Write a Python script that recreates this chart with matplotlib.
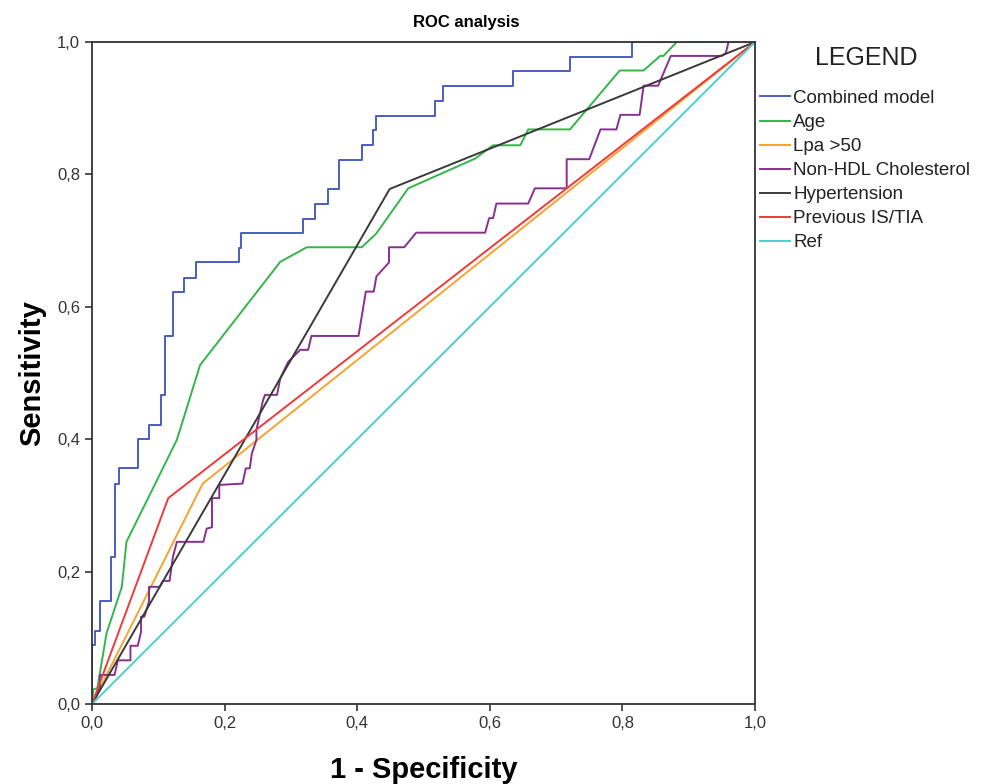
import numpy as np
import matplotlib
matplotlib.use('Agg')
import matplotlib.pyplot as plt

plt.rcParams['font.family'] = ['Liberation Sans', 'DejaVu Sans']

# data (1 - specificity, sensitivity)
# combined model: corner points of the step curve (drawn with steps-post)
combined_fpr = [0, 0, 0.004, 0.012, 0.028, 0.034, 0.041, 0.070, 0.086, 0.104, 0.110, 0.122,
                0.139, 0.157, 0.221, 0.224, 0.319, 0.337, 0.356, 0.372, 0.407, 0.424, 0.429,
                0.517, 0.530, 0.635, 0.721, 0.815, 1.0]
combined_tpr = [0, 0.089, 0.111, 0.156, 0.222, 0.333, 0.356, 0.400, 0.422, 0.467, 0.556, 0.622,
                0.644, 0.667, 0.689, 0.711, 0.733, 0.756, 0.778, 0.822, 0.844, 0.867, 0.889,
                0.911, 0.933, 0.956, 0.978, 1.0, 1.0]

age_fpr = [0, 0.002, 0.008, 0.022, 0.045, 0.052, 0.128, 0.163, 0.284, 0.324, 0.407, 0.429,
           0.477, 0.578, 0.605, 0.646, 0.658, 0.721, 0.796, 0.832, 0.857, 0.862, 0.882, 1.0]
age_tpr = [0, 0.022, 0.024, 0.107, 0.177, 0.245, 0.399, 0.512, 0.668, 0.690, 0.690, 0.711,
           0.779, 0.824, 0.844, 0.844, 0.868, 0.868, 0.957, 0.957, 0.979, 0.979, 1.0, 1.0]

lpa_fpr = [0, 0.167, 1.0]
lpa_tpr = [0, 0.333, 1.0]

hdl_fpr = [0, 0.012, 0.012, 0.034, 0.039, 0.058, 0.058, 0.069, 0.074, 0.074, 0.079, 0.086,
           0.086, 0.102, 0.107, 0.117, 0.122, 0.128, 0.168, 0.173, 0.181, 0.181, 0.192, 0.192,
           0.227, 0.232, 0.238, 0.241, 0.248, 0.248, 0.253, 0.258, 0.261, 0.279, 0.284, 0.296,
           0.314, 0.326, 0.331, 0.402, 0.413, 0.425, 0.429, 0.448, 0.448, 0.471, 0.489, 0.593,
           0.599, 0.605, 0.610, 0.658, 0.668, 0.716, 0.716, 0.750, 0.767, 0.791, 0.797, 0.826,
           0.832, 0.854, 0.873, 0.950, 0.956, 0.960, 1.0]
hdl_tpr = [0, 0.024, 0.044, 0.044, 0.066, 0.066, 0.088, 0.088, 0.109, 0.132, 0.132, 0.155,
           0.177, 0.177, 0.186, 0.186, 0.222, 0.245, 0.245, 0.265, 0.267, 0.311, 0.311, 0.331,
           0.333, 0.356, 0.356, 0.378, 0.399, 0.414, 0.437, 0.459, 0.467, 0.467, 0.492, 0.517,
           0.535, 0.535, 0.556, 0.556, 0.623, 0.623, 0.646, 0.667, 0.690, 0.690, 0.712, 0.712,
           0.734, 0.734, 0.756, 0.756, 0.779, 0.779, 0.823, 0.823, 0.868, 0.868, 0.890, 0.890,
           0.934, 0.934, 0.979, 0.979, 0.983, 1.0, 1.0]

htn_fpr = [0, 0.449, 1.0]
htn_tpr = [0, 0.778, 1.0]

tia_fpr = [0, 0.115, 1.0]
tia_tpr = [0, 0.311, 1.0]

ref_fpr = [0, 1.0]
ref_tpr = [0, 1.0]

ticks = [0, 0.2, 0.4, 0.6, 0.8, 1.0]
tick_labels = ['0,0', '0,2', '0,4', '0,6', '0,8', '1,0']

fig = plt.figure(figsize=(9.86, 7.84), dpi=100)
ax = fig.add_axes([0.0933, 0.102, 0.6724, 0.8444])

lw = 1.4
ax.plot(combined_fpr, combined_tpr, color='#4a5cc0', lw=lw, label='Combined model',
        drawstyle='steps-post')
ax.plot(age_fpr, age_tpr, color='#33b54a', lw=lw, label='Age')
ax.plot(lpa_fpr, lpa_tpr, color='#f7a32e', lw=lw, label='Lpa >50')
ax.plot(hdl_fpr, hdl_tpr, color='#87308f', lw=lw, label='Non-HDL Cholesterol')
ax.plot(htn_fpr, htn_tpr, color='#3a3a3a', lw=lw, label='Hypertension')
ax.plot(tia_fpr, tia_tpr, color='#ee3a3a', lw=lw, label='Previous IS/TIA')
ax.plot(ref_fpr, ref_tpr, color='#4fcccc', lw=lw, label='Ref')

ax.set_xlim(0, 1)
ax.set_ylim(0, 1)
ax.set_xticks(ticks)
ax.set_xticklabels(tick_labels)
ax.set_yticks(ticks)
ax.set_yticklabels(tick_labels)
ax.tick_params(direction='out', length=5, width=1.2, labelsize=12, colors='#333333')
for s in ax.spines.values():
    s.set_linewidth(1.3)
    s.set_color('#333333')

fig.text(466 / 986, 1 - 22 / 784, 'ROC analysis', fontsize=12, fontweight='bold',
         ha='center', va='center')
ax.set_xlabel('1 - Specificity', fontsize=21, fontweight='bold', labelpad=18)
ax.set_ylabel('Sensitivity', fontsize=21, fontweight='bold', labelpad=8)

fig.text(866 / 986, 1 - 58 / 784, 'LEGEND', fontsize=18, ha='center', va='center',
         color='#222222')
leg = ax.legend(loc='upper left', bbox_to_anchor=(1.004, 1 - 46 / 662), frameon=False,
                fontsize=13.5, handlelength=1.65, handletextpad=0.15, labelspacing=0.37,
                borderaxespad=0.0, borderpad=0.1, labelcolor='#222222')

fig.savefig('out.png', dpi=100)
